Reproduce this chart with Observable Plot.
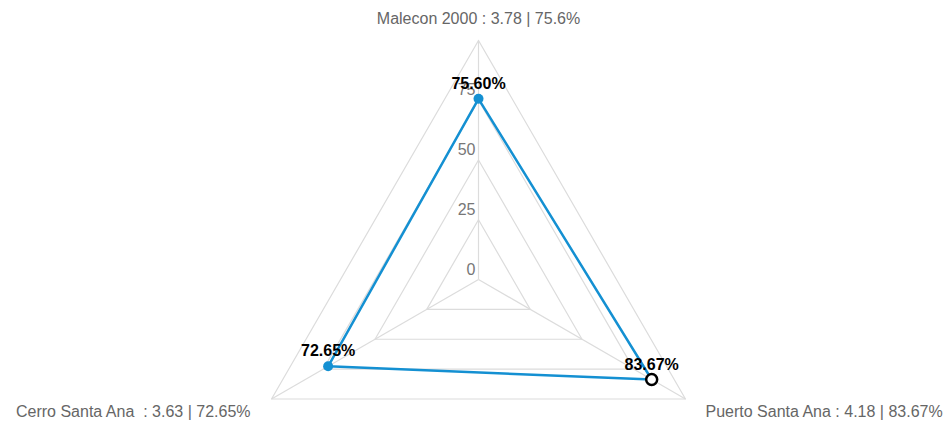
<!DOCTYPE html>
<html>
<head>
<meta charset="utf-8">
<script src="https://cdn.jsdelivr.net/npm/d3@7"></script>
<script src="https://cdn.jsdelivr.net/npm/@observablehq/plot@0.6"></script>
<style>
  html, body { margin: 0; padding: 0; background: #fff; }
  svg text { white-space: pre; }
</style>
</head>
<body>
<div id="chart"></div>
<script>
const categories = ["Malecon 2000", "Puerto Santa Ana", "Cerro Santa Ana "];
const scores = [3.78, 4.18, 3.63];
const percents = [75.6, 83.67, 72.65];
const ringLevels = [25, 50, 75, 100];
const tickLabels = [0, 25, 50, 75];
const highlighted = [false, true, false];

const W = 951, H = 421;
const cx = 478, cy = 279, k = 2.39; // px per unit
const angle = i => (i * 2 * Math.PI) / categories.length;
const px = (i, r) => r * Math.sin(angle(i));
const py = (i, r) => r * Math.cos(angle(i));

const rings = [];
ringLevels.forEach(l => {
  for (let i = 0; i <= categories.length; i++) {
    const j = i % categories.length;
    rings.push({level: l, x: px(j, l), y: py(j, l)});
  }
});
const spokes = categories.map((c, i) => ({x1: 0, y1: 0, x2: px(i, 100), y2: py(i, 100)}));
const series = categories.map((c, i) => ({cat: c, v: percents[i], x: px(i, percents[i]), y: py(i, percents[i]), hi: highlighted[i]}));
const seriesClosed = [...series, series[0]];
const axisLabels = categories.map((c, i) => ({
  text: `${c} : ${scores[i]} | ${percents[i]}%`,
  x: px(i, 100), y: py(i, 100), i
}));

const chart = Plot.plot({
  width: W, height: H,
  margin: 0,
  x: {domain: [-cx / k, (W - cx) / k], axis: null},
  y: {domain: [-(H - cy) / k, cy / k], axis: null},
  style: {fontFamily: "Liberation Sans, Arial, sans-serif", background: "#fff"},
  marks: [
    Plot.line(rings, {x: "x", y: "y", z: "level", stroke: "#dcdcdc", strokeWidth: 1.2}),
    Plot.link(spokes, {x1: "x1", y1: "y1", x2: "x2", y2: "y2", stroke: "#dcdcdc", strokeWidth: 1.2}),
    Plot.text(tickLabels, {x: 0, y: d => d, text: d => String(d), textAnchor: "end", dx: -3, dy: -10, fill: "#777", fontSize: 16}),
    Plot.text(axisLabels.filter(d => d.i === 0), {x: "x", y: "y", text: "text", dy: -22, fill: "#666", fontSize: 16}),
    Plot.text(axisLabels.filter(d => d.i === 1), {x: "x", y: "y", text: "text", textAnchor: "start", dx: 20, dy: 13, fill: "#666", fontSize: 16}),
    Plot.text(axisLabels.filter(d => d.i === 2), {x: "x", y: "y", text: "text", textAnchor: "end", dx: -21, dy: 13, fill: "#666", fontSize: 16}),
    Plot.line(seriesClosed, {x: "x", y: "y", stroke: "#1490d2", strokeWidth: 2.5}),
    Plot.dot(series.filter(d => !d.hi), {x: "x", y: "y", r: 5, fill: "#1490d2"}),
    Plot.dot(series.filter(d => d.hi), {x: "x", y: "y", r: 5.5, fill: "#fff", stroke: "#000", strokeWidth: 2.5}),
    Plot.text(series, {x: "x", y: "y", text: d => d.v.toFixed(2) + "%", dy: -15, fill: "#000", fontWeight: "bold", fontSize: 16})
  ]
});
document.getElementById("chart").appendChild(chart);
</script>
</body>
</html>
